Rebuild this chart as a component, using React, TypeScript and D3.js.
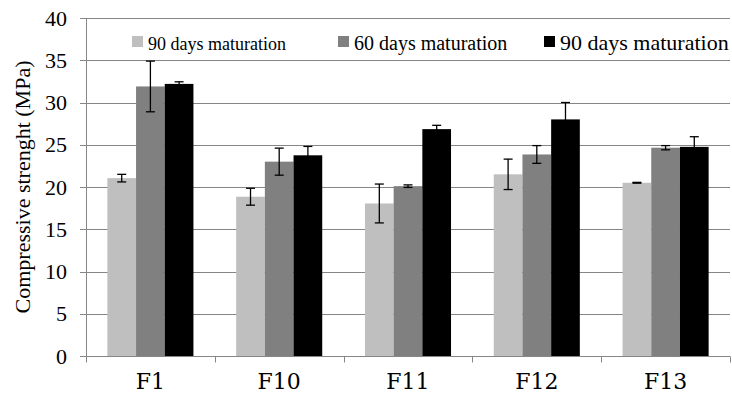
import * as d3 from 'd3';

const [W, H] = [732, 396];
const margin = {left: 86, right: 2, top: 18, bottom: 40};

const categories = ['F1', 'F10', 'F11', 'F12', 'F13'];
const seriesNames = ['90 days maturation', '60 days maturation', '90 days maturation'];
const seriesColors = ['#bfbfbf', '#808080', '#000000'];
const lightValues = [21.05, 18.85, 18.05, 21.5, 20.5];
const lightErrors = [0.45, 1.0, 2.3, 1.8, 0.05];
const darkValues = [31.9, 23.0, 20.1, 23.85, 24.65];
const darkErrors = [3.0, 1.6, 0.15, 1.05, 0.25];
const blackValues = [32.2, 23.75, 26.85, 28.0, 24.75];
const blackErrors = [0.25, 1.05, 0.45, 2.0, 1.2];
const yTicks = [0, 5, 10, 15, 20, 25, 30, 35, 40];
const yTitle = 'Compressive strenght (MPa)';

const values = [lightValues, darkValues, blackValues];
const errors = [lightErrors, darkErrors, blackErrors];
const AXIS = '#868686';

const x0 = d3.scaleBand().domain(categories).range([margin.left, W - margin.right]).padding(0);
const x1 = d3.scaleBand<number>().domain([0, 1, 2]).range([0, x0.bandwidth()])
    .paddingInner(0).paddingOuter(0.745);
const y = d3.scaleLinear().domain([0, 40]).range([H - margin.bottom, margin.top]);
const py = (v: number) => Math.round(y(v)) + 0.5;

const legendX = [132, 338, 544];
const capW = 4.5;

export default function App() {
    const base = py(0);
    const xEdges = [...categories.map(c => x0(c)!), W - margin.right];
    return (
        <svg width={W} height={H} style={{position: 'absolute', left: 0, top: 0}}>
            {/* grid */}
            {yTicks.filter(t => t > 0).map(t => (
                <line key={t} x1={margin.left} x2={W - margin.right} y1={py(t)} y2={py(t)} stroke={AXIS} />
            ))}
            {/* bars */}
            {values.map((vals, si) => (
                <g key={si} fill={seriesColors[si]}>
                    {vals.map((v, i) => (
                        <rect key={i} x={x0(categories[i])! + x1(si)!} y={y(v)}
                              width={x1.bandwidth()} height={y(0) - y(v)} />
                    ))}
                </g>
            ))}
            {/* y axis */}
            <line x1={margin.left + 0.5} x2={margin.left + 0.5} y1={py(40)} y2={base} stroke={AXIS} />
            {yTicks.map(t => (
                <g key={t}>
                    <line x1={margin.left - 6} x2={margin.left} y1={py(t)} y2={py(t)} stroke={AXIS} />
                    <text x={margin.left - 19} y={y(t) + 7.5} textAnchor="end"
                          fontFamily="serif" fontSize={22}>{String(t)}</text>
                </g>
            ))}
            {/* x axis */}
            <line x1={margin.left} x2={W - margin.right} y1={base} y2={base} stroke={AXIS} />
            {xEdges.map((e, i) => (
                <line key={i} x1={Math.round(e) + 0.5} x2={Math.round(e) + 0.5} y1={base} y2={base + 6} stroke={AXIS} />
            ))}
            {categories.map(c => (
                <text key={c} x={x0(c)! + x0.bandwidth() / 2} y={389} textAnchor="middle"
                      fontFamily="DejaVu Serif" fontSize={22}>{c}</text>
            ))}
            {/* error bars */}
            {values.map((vals, si) => (
                <g key={si} stroke="#000" strokeWidth={1.3}>
                    {vals.map((v, i) => {
                        const cx = x0(categories[i])! + x1(si)! + x1.bandwidth() / 2;
                        const hi = y(v + errors[si][i]);
                        const lo = y(v - errors[si][i]);
                        return (
                            <g key={i}>
                                <line x1={cx} x2={cx} y1={hi} y2={lo} />
                                <line x1={cx - capW} x2={cx + capW} y1={hi} y2={hi} />
                                <line x1={cx - capW} x2={cx + capW} y1={lo} y2={lo} />
                            </g>
                        );
                    })}
                </g>
            ))}
            {/* y title */}
            <text transform={`translate(30,${(y(0) + y(40)) / 2}) rotate(-90)`} textAnchor="middle"
                  fontFamily="Tinos" fontSize={22}>{yTitle}</text>
            {/* legend */}
            {seriesNames.map((s, i) => (
                <g key={i} transform={`translate(${legendX[i]},36)`}>
                    <rect width={11} height={11} fill={seriesColors[i]} />
                    <text x={16} y={14} fontFamily="Liberation Serif" fontSize={18 + i * 2}>{s}</text>
                </g>
            ))}
        </svg>
    );
}
